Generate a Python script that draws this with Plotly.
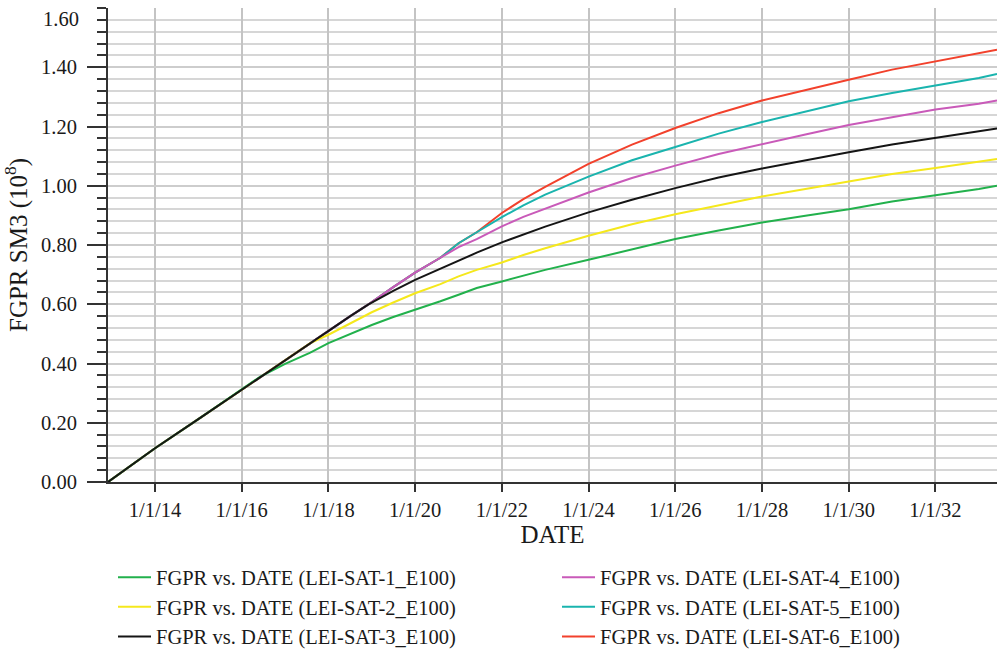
import plotly.graph_objects as go

# Simulation report dates (shared by every case)
dates = [
    "2012-12-01", "2014-01-01", "2015-01-01", "2016-01-01", "2016-06-03",
    "2017-01-01", "2017-08-01", "2018-01-01", "2018-07-01", "2018-12-01",
    "2019-01-01", "2019-07-01", "2020-01-01", "2020-08-01", "2021-01-01",
    "2021-06-03", "2022-01-01", "2022-07-01", "2023-01-01", "2024-01-01",
    "2025-01-01", "2026-01-01", "2027-01-01", "2028-01-01", "2029-01-01",
    "2030-01-01", "2031-01-01", "2032-01-01", "2033-01-01", "2033-06-03",
]

# Cumulative gas production FGPR, SM3 x 1e8
sat1 = [0.000, 0.114, 0.212, 0.311, 0.355, 0.399, 0.437, 0.469, 0.500, 0.525,
        0.530, 0.557, 0.581, 0.610, 0.632, 0.655, 0.677, 0.697, 0.716, 0.750,
        0.786, 0.820, 0.849, 0.876, 0.899, 0.921, 0.947, 0.967, 0.989, 1.000]
sat2 = [0.000, 0.114, 0.212, 0.311, 0.355, 0.412, 0.469, 0.497, 0.535, 0.567,
        0.573, 0.606, 0.637, 0.668, 0.694, 0.716, 0.741, 0.766, 0.789, 0.831,
        0.870, 0.904, 0.934, 0.964, 0.989, 1.015, 1.040, 1.060, 1.082, 1.090]
sat3 = [0.000, 0.114, 0.212, 0.311, 0.355, 0.412, 0.469, 0.511, 0.559, 0.599,
        0.606, 0.645, 0.682, 0.720, 0.748, 0.774, 0.809, 0.836, 0.862, 0.910,
        0.953, 0.992, 1.028, 1.058, 1.086, 1.113, 1.139, 1.161, 1.183, 1.193]
sat4 = [0.000, 0.114, 0.212, 0.311, 0.355, 0.412, 0.469, 0.511, 0.559, 0.599,
        0.607, 0.658, 0.707, 0.757, 0.793, 0.820, 0.863, 0.895, 0.922, 0.977,
        1.026, 1.068, 1.107, 1.141, 1.173, 1.205, 1.232, 1.257, 1.277, 1.288]
sat5 = [0.000, 0.114, 0.212, 0.311, 0.355, 0.412, 0.469, 0.511, 0.559, 0.599,
        0.607, 0.658, 0.707, 0.757, 0.806, 0.843, 0.894, 0.934, 0.970, 1.031,
        1.086, 1.131, 1.176, 1.215, 1.249, 1.285, 1.313, 1.338, 1.364, 1.377]
sat6 = [0.000, 0.114, 0.212, 0.311, 0.355, 0.412, 0.469, 0.511, 0.559, 0.599,
        0.607, 0.658, 0.707, 0.757, 0.806, 0.843, 0.908, 0.955, 0.996, 1.074,
        1.139, 1.195, 1.245, 1.288, 1.324, 1.358, 1.392, 1.420, 1.446, 1.459]

names = [
    "FGPR vs. DATE (LEI-SAT-1_E100)",
    "FGPR vs. DATE (LEI-SAT-2_E100)",
    "FGPR vs. DATE (LEI-SAT-3_E100)",
    "FGPR vs. DATE (LEI-SAT-4_E100)",
    "FGPR vs. DATE (LEI-SAT-5_E100)",
    "FGPR vs. DATE (LEI-SAT-6_E100)",
]
colors = ["#22b14c", "#f5e81c", "#151515", "#c95ab9", "#1ab4ae", "#f2412c"]
series = [sat1, sat2, sat3, sat4, sat5, sat6]

y_ticks = [0.0, 0.2, 0.4, 0.6, 0.8, 1.0, 1.2, 1.4]

FONT = "Liberation Serif, Times New Roman, serif"
FS = 20.5

fig = go.Figure()

# drawing order (bottom to top) and legend ranks (two columns: 1-3 | 4-6)
draw_order = [5, 4, 3, 1, 0, 2]
legend_rank = {0: 1, 3: 2, 1: 3, 4: 4, 2: 5, 5: 6}
for i in draw_order:
    fig.add_trace(go.Scatter(
        x=dates, y=series[i], name=names[i], mode="lines",
        line=dict(color=colors[i], width=2),
        legendrank=legend_rank[i],
    ))

fig.update_layout(
    width=997, height=650,
    margin=dict(l=108, r=0, t=8, b=168, autoexpand=False),
    paper_bgcolor="white", plot_bgcolor="white",
    font=dict(family=FONT, size=FS, color="#1a1a1a"),
    showlegend=True,
    legend=dict(
        orientation="h", x=5 / 889, xanchor="left",
        y=-0.159, yanchor="top",
        entrywidth=396, entrywidthmode="pixels",
        font=dict(family=FONT, size=FS, color="#1a1a1a"),
        itemwidth=33, traceorder="normal", tracegroupgap=0,
    ),
)

fig.update_xaxes(
    type="date",
    range=["2012-12-01", "2033-06-03"],
    tick0="2014-01-01", dtick="M24", tickformat="%-m/%-d/%y",
    ticks="outside", ticklen=8, tickwidth=2, tickcolor="#333",
    showline=True, linecolor="#333", linewidth=2,
    showgrid=True, gridcolor="#c4c4c4", gridwidth=2,
    zeroline=False,
    title=dict(text="DATE", standoff=6),
)

fig.update_yaxes(
    range=[0, 1.6],
    tickvals=y_ticks, ticktext=[f"{v:.2f}" for v in y_ticks],
    ticks="outside", ticklen=19, tickwidth=2, tickcolor="#333",
    ticklabelstandoff=6,
    showline=True, linecolor="#333", linewidth=2,
    showgrid=True, gridcolor="#cdcdcd", gridwidth=2,
    zeroline=False,
    minor=dict(dtick=0.04, tick0=0, ticks="outside", ticklen=9, tickwidth=2,
               tickcolor="#333", showgrid=True, gridcolor="#d6d6d6", gridwidth=2),
    title=dict(text="FGPR SM3 (10<sup>8</sup>)", standoff=8),
)

# top value label sits just below the upper edge of the frame
fig.add_annotation(
    text="1.60", xref="paper", yref="paper", x=0, y=(482 - 19) / 474,
    xanchor="right", yanchor="middle", xshift=-27, showarrow=False,
    font=dict(family=FONT, size=FS, color="#1a1a1a"),
)

fig.write_html("out.html")
